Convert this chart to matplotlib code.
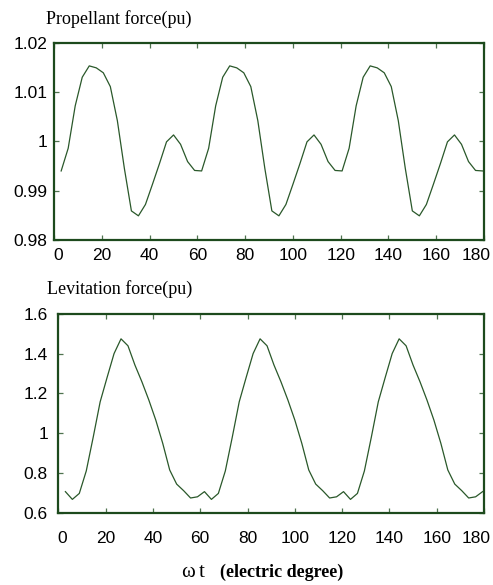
import numpy as np
import matplotlib
matplotlib.use('Agg')
import matplotlib.pyplot as plt
from matplotlib.transforms import ScaledTranslation

plt.rcParams['font.family'] = ['Liberation Sans', 'DejaVu Sans']

# sampling grid (electric degree), 61 samples
angle = np.round(np.linspace(3.0, 179.4, 61), 2)

propellant = [0.9940, 0.9986, 1.0072, 1.0130, 1.0153, 1.0149, 1.0139, 1.0111, 1.0042, 0.9945,
              0.9859, 0.9849, 0.9872, 0.9913, 0.9955, 0.9999, 1.0013, 0.9994, 0.9959, 0.9941,
              0.9940, 0.9986, 1.0072, 1.0130, 1.0153, 1.0149, 1.0139, 1.0111, 1.0042, 0.9945,
              0.9859, 0.9849, 0.9872, 0.9913, 0.9955, 0.9999, 1.0013, 0.9994, 0.9959, 0.9941,
              0.9940, 0.9986, 1.0072, 1.0130, 1.0153, 1.0149, 1.0139, 1.0111, 1.0042, 0.9945,
              0.9859, 0.9849, 0.9872, 0.9913, 0.9955, 0.9999, 1.0013, 0.9994, 0.9959, 0.9941,
              0.9940]

levitation = [0.706, 0.667, 0.697, 0.810, 0.980, 1.158, 1.281, 1.401, 1.475, 1.440,
              1.343, 1.259, 1.167, 1.066, 0.949, 0.815, 0.744, 0.711, 0.674, 0.680,
              0.706, 0.667, 0.697, 0.810, 0.980, 1.158, 1.281, 1.401, 1.475, 1.440,
              1.343, 1.259, 1.167, 1.066, 0.949, 0.815, 0.744, 0.711, 0.674, 0.680,
              0.706, 0.667, 0.697, 0.810, 0.980, 1.158, 1.281, 1.401, 1.475, 1.440,
              1.343, 1.259, 1.167, 1.066, 0.949, 0.815, 0.744, 0.711, 0.674, 0.680,
              0.706]

xticks = list(range(0, 181, 20))
prop_ticks = [0.98, 0.99, 1.0, 1.01, 1.02]
prop_labels = ['0.98', '0.99', '1', '1.01', '1.02']
lev_ticks = [0.6, 0.8, 1.0, 1.2, 1.4, 1.6]
lev_labels = ['0.6', '0.8', '1', '1.2', '1.4', '1.6']

frame_col = '#1d4a1d'
line_col = '#2a582a'
tick_col = '#4f734f'

W, H = 493, 585
fig = plt.figure(figsize=(W / 100, H / 100), dpi=100)


def style(ax, xpad, ypad):
    for s in ax.spines.values():
        s.set_color(frame_col)
        s.set_linewidth(1.6)
    ax.tick_params(direction='in', top=True, right=True, length=3.8, width=0.9,
                   color=tick_col, labelsize=12.5)
    ax.tick_params(axis='x', pad=xpad)
    ax.tick_params(axis='y', pad=ypad)
    ax.set_xlim(0, 180)
    ax.set_xticks(xticks)
    ax.set_xticklabels([str(t) for t in xticks])
    labs = ax.get_xticklabels()
    labs[0].set_transform(labs[0].get_transform() + ScaledTranslation(4 / 100, 0, fig.dpi_scale_trans))
    labs[-1].set_transform(labs[-1].get_transform() + ScaledTranslation(-8 / 100, 0, fig.dpi_scale_trans))


ax1 = fig.add_axes([54 / W, 1 - 240 / H, 430 / W, 197.3 / H])
ax1.plot(angle, propellant, color=line_col, linewidth=0.9)
ax1.set_ylim(0.98, 1.02)
ax1.set_yticks(prop_ticks)
ax1.set_yticklabels(prop_labels)
style(ax1, 6, 4.5)

ax2 = fig.add_axes([58.3 / W, 1 - 512.7 / H, 425.7 / W, 198.7 / H])
ax2.plot(angle, levitation, color=line_col, linewidth=0.9)
ax2.set_ylim(0.6, 1.6)
ax2.set_yticks(lev_ticks)
ax2.set_yticklabels(lev_labels)
style(ax2, 13, 7.5)

serif = 'Liberation Serif'
fig.text(46 / W, 1 - 24 / H, 'Propellant force(pu)', family=serif, fontsize=13, va='baseline')
fig.text(47 / W, 1 - 294 / H, 'Levitation force(pu)', family=serif, fontsize=13, va='baseline')
fig.text(181 / W, 1 - 577 / H, '\u03c9', family=serif, fontsize=15, va='baseline')
fig.text(199 / W, 1 - 577 / H, 't', family=serif, fontsize=15, va='baseline')
fig.text(220 / W, 1 - 577 / H, '(electric degree)', family=serif, fontsize=13,
         fontweight='bold', va='baseline')

fig.savefig('out.png', dpi=100)
